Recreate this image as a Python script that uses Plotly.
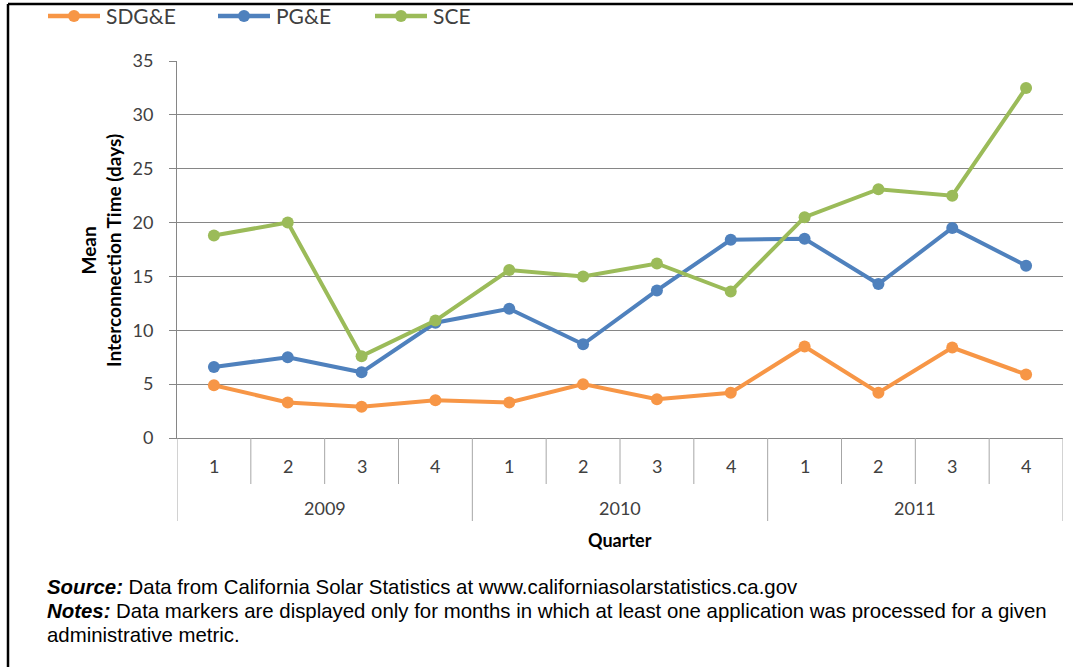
import plotly.graph_objects as go

quarters = ["1", "2", "3", "4", "1", "2", "3", "4", "1", "2", "3", "4"]
years = ["2009", "2010", "2011"]
sdge = [4.9, 3.3, 2.9, 3.5, 3.3, 5.0, 3.6, 4.2, 8.5, 4.2, 8.4, 5.9]
pge = [6.6, 7.5, 6.1, 10.7, 12.0, 8.7, 13.7, 18.4, 18.5, 14.3, 19.5, 16.0]
sce = [18.8, 20.0, 7.6, 10.9, 15.6, 15.0, 16.2, 13.6, 20.5, 23.1, 22.5, 32.5]
y_ticks = [0, 5, 10, 15, 20, 25, 30, 35]
foot_lines = [
    "<b><i>Source:</i></b> Data from California Solar Statistics at www.californiasolarstatistics.ca.gov",
    "<b><i>Notes:</i></b> Data markers are displayed only for months in which at least one application was processed for a given",
    "administrative metric.",
]

W, H = 1073, 667
L, R, T, B = 177, 1063, 61, 438

def px_x(p):
    return (p - L) / (R - L)

def px_y(p):
    return (B - p) / (B - T)

xs = list(range(len(quarters)))
fig = go.Figure()
series = [("SDG&E", sdge, "#F79646"), ("PG&E", pge, "#4F81BD"), ("SCE", sce, "#9BBB59")]
for name, vals, col in series:
    fig.add_trace(go.Scatter(x=xs, y=vals, name=name, mode="lines+markers",
                             line=dict(color=col, width=4),
                             marker=dict(color=col, size=12), showlegend=False))

tick_font = dict(family="Lato, Carlito, sans-serif", size=18, color="#404040")
shapes = []
annotations = []
n = len(quarters)
per_year = n // len(years)
for b in range(n + 1):
    xb = b - 0.5
    long = (b % per_year == 0)
    shapes.append(dict(type="line", xref="x", yref="paper", x0=xb, x1=xb,
                       y0=0, y1=px_y(521 if long else 484),
                       line=dict(color="#A6A6A6", width=1)))
for i, q in enumerate(quarters):
    annotations.append(dict(x=i, y=px_y(466), xref="x", yref="paper", text=q,
                            showarrow=False, font=tick_font, yanchor="middle"))
for j, yr in enumerate(years):
    annotations.append(dict(x=j * per_year + (per_year - 1) / 2, y=px_y(508), xref="x",
                            yref="paper", text=yr, showarrow=False, font=tick_font,
                            yanchor="middle"))
annotations.append(dict(x=0.5 * (px_x(L) + px_x(R)), y=px_y(540), xref="paper", yref="paper",
                        text="<b>Quarter</b>", showarrow=False,
                        font=dict(family="Lato, Carlito, sans-serif", size=18, color="#000000"),
                        yanchor="middle"))
annotations.append(dict(x=px_x(101), y=px_y(251), xref="paper", yref="paper",
                        text="<b>Mean<br>Interconnection Time (days)</b>", showarrow=False,
                        textangle=-90,
                        font=dict(family="Lato, Carlito, sans-serif", size=19, color="#000000"),
                        xanchor="center", yanchor="middle"))
foot_font = dict(family="Liberation Sans, Arial, sans-serif", size=20.4, color="#000000")
for k, line in enumerate(foot_lines):
    annotations.append(dict(x=px_x(45), y=px_y(587 + 24 * k), xref="paper", yref="paper",
                            text=line, showarrow=False, align="left", xanchor="left",
                            yanchor="middle", font=foot_font))

# legend drawn by hand
leg_pos = [48, 218, 375]
leg_font = dict(family="Lato, Carlito, sans-serif", size=21, color="#404040")
for (name, vals, col), lx in zip(series, leg_pos):
    shapes.append(dict(type="line", xref="paper", yref="paper", x0=px_x(lx), x1=px_x(lx + 52),
                       y0=px_y(16), y1=px_y(16), line=dict(color=col, width=4.5)))
    shapes.append(dict(type="circle", xref="paper", yref="paper", xsizemode="pixel",
                       ysizemode="pixel", xanchor=px_x(lx + 26), yanchor=px_y(16),
                       x0=-6, x1=6, y0=-6, y1=6, fillcolor=col, line=dict(width=0)))
    annotations.append(dict(x=px_x(lx + 56), y=px_y(15), xref="paper", yref="paper", text=name,
                            showarrow=False, xanchor="left", yanchor="middle", font=leg_font))

# frame
shapes.append(dict(type="line", xref="paper", yref="paper", x0=px_x(8), x1=px_x(1073),
                   y0=px_y(4), y1=px_y(4), line=dict(color="#000000", width=2.5)))
shapes.append(dict(type="line", xref="paper", yref="paper", x0=px_x(8), x1=px_x(8),
                   y0=px_y(4), y1=px_y(667), line=dict(color="#000000", width=2.5)))

fig.update_layout(
    width=W, height=H,
    margin=dict(l=L, r=W - R, t=T, b=H - B, autoexpand=False),
    paper_bgcolor="white", plot_bgcolor="white",
    showlegend=False,
    xaxis=dict(range=[-0.5, n - 0.5], showticklabels=False, showgrid=False, zeroline=False,
               showline=True, linecolor="#868686", linewidth=1, ticks=""),
    yaxis=dict(range=[0, 35], tickvals=y_ticks, showgrid=True, gridcolor="#868686", gridwidth=1,
               zeroline=False, showline=True, linecolor="#868686", linewidth=1,
               ticks="outside", ticklen=7, tickcolor="#868686", tickfont=tick_font,
               ticklabelstandoff=12),
    shapes=shapes, annotations=annotations,
)
fig.write_html("out.html")
